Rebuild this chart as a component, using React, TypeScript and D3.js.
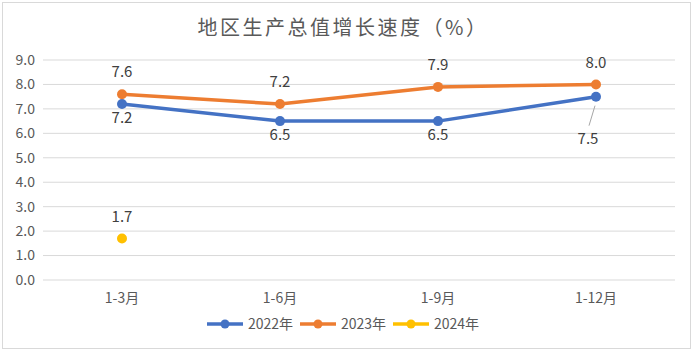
import { useMemo } from "react";
import * as d3 from "d3";

const categories = ["1-3月", "1-6月", "1-9月", "1-12月"];
const yTicks = [0, 1, 2, 3, 4, 5, 6, 7, 8, 9];
const series2022 = [7.2, 6.5, 6.5, 7.5];
const series2023 = [7.6, 7.2, 7.9, 8.0];
const series2024: (number | null)[] = [1.7, null, null, null];

const seriesList = [
  { name: "2022年", values: series2022 as (number | null)[], color: "#4472C4", labelPos: "below" },
  { name: "2023年", values: series2023 as (number | null)[], color: "#ED7D31", labelPos: "above" },
  { name: "2024年", values: series2024, color: "#FFC000", labelPos: "above" },
];

const W = 693;
const H = 351;
const FONT = "'Noto Sans CJK SC', 'Noto Sans', sans-serif";

export default function App() {
  const x = useMemo(() => d3.scaleBand<string>().domain(categories).range([43, 675]), []);
  const y = useMemo(() => d3.scaleLinear().domain([0, 9]).range([280, 60]), []);
  const cx = (c: string) => (x(c) ?? 0) + x.bandwidth() / 2;

  const line = d3
    .line<number | null>()
    .defined((d) => d != null)
    .x((_, i) => cx(categories[i]))
    .y((d) => y(d as number));

  return (
    <svg
      width={W}
      height={H}
      viewBox={`0 0 ${W} ${H}`}
      style={{ position: "absolute", left: 0, top: 0, fontFamily: FONT }}
    >
      <rect x={2.5} y={2.5} width={W - 5} height={H - 5} fill="#fff" stroke="#d9d9d9" />
      <text x={343} y={35} textAnchor="middle" fontSize={20} fill="#595959" letterSpacing={2.5}>
        地区生产总值增长速度（%）
      </text>

      {yTicks.map((t) => (
        <g key={t}>
          <line x1={43} x2={675} y1={y(t)} y2={y(t)} stroke="#d9d9d9" strokeWidth={1} />
          <text x={35} y={y(t)} dy="0.35em" textAnchor="end" fontSize={14} fill="#595959">
            {t.toFixed(1)}
          </text>
        </g>
      ))}

      {categories.map((c) => (
        <text key={c} x={cx(c)} y={303} textAnchor="middle" fontSize={14} fill="#595959">
          {c}
        </text>
      ))}

      {seriesList.map((s) => (
        <g key={s.name}>
          <path d={line(s.values) ?? ""} fill="none" stroke={s.color} strokeWidth={3.5} strokeLinejoin="round" />
          {s.values.map((v, i) =>
            v == null ? null : (
              <circle key={i} cx={cx(categories[i])} cy={y(v)} r={5} fill={s.color} />
            )
          )}
        </g>
      ))}

      {seriesList.map((s) =>
        s.values.map((v, i) => {
          if (v == null) return null;
          const px = cx(categories[i]);
          const py = y(v);
          const isLast = s.labelPos === "below" && i === categories.length - 1;
          if (isLast) {
            const lx = px - 8;
            const ly = py + 42;
            return (
              <g key={s.name + i}>
                <line x1={px - 1} y1={py + 9} x2={lx + 1} y2={ly - 13} stroke="#a6a6a6" strokeWidth={1} />
                <text x={lx} y={ly} dy="0.35em" textAnchor="middle" fontSize={15} fill="#404040">
                  {v.toFixed(1)}
                </text>
              </g>
            );
          }
          const ly = s.labelPos === "below" ? py + 14 : py - 22;
          return (
            <text key={s.name + i} x={px} y={ly} dy="0.35em" textAnchor="middle" fontSize={15} fill="#404040">
              {v.toFixed(1)}
            </text>
          );
        })
      )}

      {seriesList.map((s, i) => {
        const lx = 207 + i * 93;
        return (
          <g key={s.name}>
            <line x1={lx} x2={lx + 36} y1={324} y2={324} stroke={s.color} strokeWidth={3.5} />
            <circle cx={lx + 18} cy={324} r={4.5} fill={s.color} />
            <text x={lx + 41} y={324} dy="0.35em" fontSize={14} fill="#595959">
              {s.name}
            </text>
          </g>
        );
      })}
    </svg>
  );
}
